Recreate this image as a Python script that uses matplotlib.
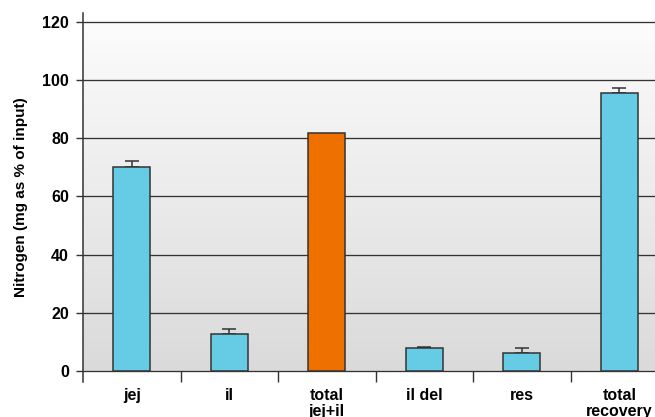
"""Nitrogen recovery bar chart."""

import matplotlib.pyplot as plt
import numpy as np
from matplotlib.colors import LinearSegmentedColormap

CATEGORIES = ["jej", "il", "total\njej+il", "il del", "res", "total\nrecovery"]
VALUES = [70.2, 12.6, 82.0, 7.9, 6.1, 95.6]
ERRORS = [1.9, 1.8, 0.0, 0.4, 1.8, 1.7]
COLORS = ["#66cce6", "#66cce6", "#ee7100", "#66cce6", "#66cce6", "#66cce6"]
Y_TICKS = [0, 20, 40, 60, 80, 100, 120]

plt.rcParams["font.family"] = ["Liberation Sans", "DejaVu Sans"]
plt.rcParams["font.weight"] = "bold"

fig = plt.figure(figsize=(6.55, 4.17), dpi=100)
ax = fig.add_axes([83 / 655, 35 / 417, 1 - 83 / 655 + 0.02, (382 - 13) / 417])

x = np.arange(len(CATEGORIES))
ax.set_xlim(-0.5, 5.5)
ax.set_ylim(-3.8, 123.1)

# background gradient between 0 and 120
grad = np.linspace(0, 1, 256).reshape(-1, 1)
cmap = LinearSegmentedColormap.from_list("bg", ["#dadada", "#fcfcfc"])
ax.imshow(grad, extent=(-0.5, 5.5, 0, 120), origin="lower", aspect="auto",
          cmap=cmap, zorder=0)

for yv in Y_TICKS:
    ax.axhline(yv, color="#333333", linewidth=0.95, zorder=1)

ax.bar(x, VALUES, width=0.38, color=COLORS, edgecolor="#333333",
       linewidth=1.1, zorder=3)
for xi, v, e in zip(x, VALUES, ERRORS):
    if e > 0:
        ax.errorbar(xi, v, yerr=[[0], [e]], fmt="none", ecolor="#333333",
                    elinewidth=1.1, capsize=5, capthick=1.1, zorder=2)

for side in ("top", "right"):
    ax.spines[side].set_visible(False)
ax.spines["bottom"].set_position(("data", 0))
ax.spines["bottom"].set_visible(False)
ax.spines["left"].set_color("#333333")
ax.spines["left"].set_linewidth(1.1)

ax.set_yticks(Y_TICKS)
ax.set_yticklabels([str(v) for v in Y_TICKS], fontsize=11.5, fontweight="bold")
ax.tick_params(axis="y", length=5, width=1.0, color="#333333", pad=5)

ax.set_xticks(x)
ax.set_xticklabels(CATEGORIES, fontsize=11.5, fontweight="bold", linespacing=1.05)
ax.set_xticks(x[:-1] + 0.5, minor=True)
ax.tick_params(axis="x", which="major", length=0, pad=12.5)
ax.tick_params(axis="x", which="minor", length=8, width=1.0, color="#333333",
               direction="out")

ax.set_ylabel("Nitrogen (mg as % of input)", fontsize=11, fontweight="bold",
              labelpad=10)

fig.savefig("out.png", dpi=100)
